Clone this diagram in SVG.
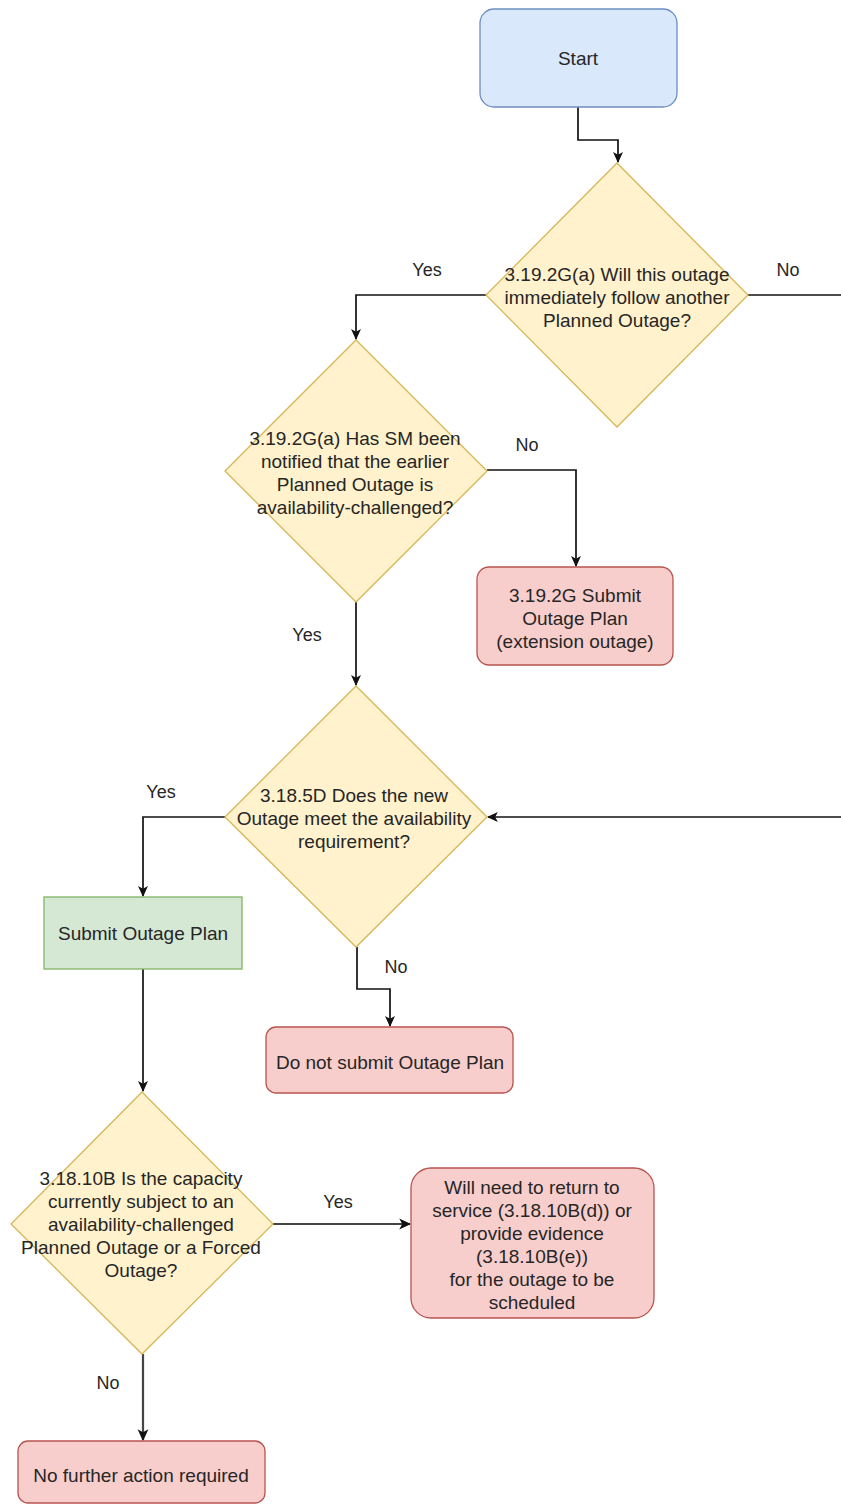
<svg xmlns="http://www.w3.org/2000/svg" width="841" height="1504" viewBox="0 0 841 1504">
<style>
text{font-family:"Liberation Sans",Arial,sans-serif;font-size:19px;fill:#262626;text-anchor:middle;dominant-baseline:central}
.lbl{font-size:18px}
.start{fill:#dae8fc;stroke:#6c8ebf;stroke-width:1.3}
.dec{fill:#fff2cc;stroke:#d6b656;stroke-width:1.3}
.red{fill:#f8cecc;stroke:#b85450;stroke-width:1.3}
.green{fill:#d5e8d4;stroke:#82b366;stroke-width:1.3}
.edge{fill:none;stroke:#111;stroke-width:1.7}
.edge2{fill:none;stroke:#444;stroke-width:2.2}
</style>
<defs>
<marker id="arr" viewBox="0 0 10 10" refX="9" refY="5" markerWidth="11" markerHeight="11" markerUnits="userSpaceOnUse" orient="auto">
<path d="M0,0.5 L10,5 L0,9.5 L2.5,5 Z" fill="#111"/>
</marker>
<marker id="arr2" viewBox="0 0 10 10" refX="9" refY="5" markerWidth="12" markerHeight="12" markerUnits="userSpaceOnUse" orient="auto">
<path d="M0,0.5 L10,5 L0,9.5 L2.5,5 Z" fill="#111"/>
</marker>
</defs>
<rect width="841" height="1504" fill="#ffffff"/>
<g id="connectors">
<path class="edge" d="M578,107 V140 H618 V162" marker-end="url(#arr)"/>
<path class="edge" d="M486,295 H356 V339" marker-end="url(#arr)"/>
<path class="edge" d="M748,295 H841"/>
<path class="edge" d="M487,470 H576 V566" marker-end="url(#arr)"/>
<path class="edge" d="M356,602 V685" marker-end="url(#arr)"/>
<path class="edge" d="M841,817 H488" marker-end="url(#arr)"/>
<path class="edge" d="M225,817 H143 V896" marker-end="url(#arr)"/>
<path class="edge" d="M143,969 V1091" marker-end="url(#arr)"/>
<path class="edge" d="M357,947 V989 H390 V1026" marker-end="url(#arr)"/>
<path class="edge2" d="M273,1224 H410" marker-end="url(#arr2)"/>
<path class="edge2" d="M143,1354 V1440" marker-end="url(#arr2)"/>
<text class="lbl" x="427" y="270">Yes</text>
<text class="lbl" x="788" y="270">No</text>
<text class="lbl" x="527" y="445">No</text>
<text class="lbl" x="307" y="635">Yes</text>
<text class="lbl" x="161" y="792">Yes</text>
<text class="lbl" x="396" y="967">No</text>
<text class="lbl" x="338" y="1202">Yes</text>
<text class="lbl" x="108" y="1383">No</text>
</g>
<g id="start">
<rect class="start" x="480" y="9" width="197" height="98" rx="14"/>
<text x="578" y="58">Start</text>
</g>
<g id="d1">
<polygon class="dec" points="617,163 748,295 617,427 486,295"/>
<text x="617" y="274">3.19.2G(a) Will this outage</text>
<text x="617" y="297">immediately follow another</text>
<text x="617" y="320">Planned Outage?</text>
</g>
<g id="d2">
<polygon class="dec" points="356,340 487,471 356,602 225,471"/>
<text x="355" y="438">3.19.2G(a) Has SM been</text>
<text x="355" y="461">notified that the earlier</text>
<text x="355" y="484">Planned Outage is</text>
<text x="355" y="507">availability-challenged?</text>
</g>
<g id="ext">
<rect class="red" x="477" y="567" width="196" height="98" rx="12"/>
<text x="575" y="595">3.19.2G Submit</text>
<text x="575" y="618">Outage Plan</text>
<text x="575" y="641">(extension outage)</text>
</g>
<g id="d3">
<polygon class="dec" points="356,686 487,817 356,947 225,817"/>
<text x="354" y="795">3.18.5D Does the new</text>
<text x="354" y="818">Outage meet the availability</text>
<text x="354" y="841">requirement?</text>
</g>
<g id="submit">
<rect class="green" x="44" y="897" width="198" height="72"/>
<text x="143" y="933">Submit Outage Plan</text>
</g>
<g id="nosubmit">
<rect class="red" x="266" y="1027" width="247" height="66" rx="10"/>
<text x="390" y="1062">Do not submit Outage Plan</text>
</g>
<g id="d4">
<polygon class="dec" points="142,1092 273,1224 142,1354 11,1224"/>
<text x="141" y="1178">3.18.10B Is the capacity</text>
<text x="141" y="1201">currently subject to an</text>
<text x="141" y="1224">availability-challenged</text>
<text x="141" y="1247">Planned Outage or a Forced</text>
<text x="141" y="1270">Outage?</text>
</g>
<g id="return">
<rect class="red" x="411" y="1168" width="243" height="150" rx="20"/>
<text x="532" y="1187">Will need to return to</text>
<text x="532" y="1210">service (3.18.10B(d)) or</text>
<text x="532" y="1233">provide evidence</text>
<text x="532" y="1256">(3.18.10B(e))</text>
<text x="532" y="1279">for the outage to be</text>
<text x="532" y="1302">scheduled</text>
</g>
<g id="nofurther">
<rect class="red" x="18" y="1441" width="247" height="62" rx="10"/>
<text x="141" y="1475">No further action required</text>
</g>
</svg>
